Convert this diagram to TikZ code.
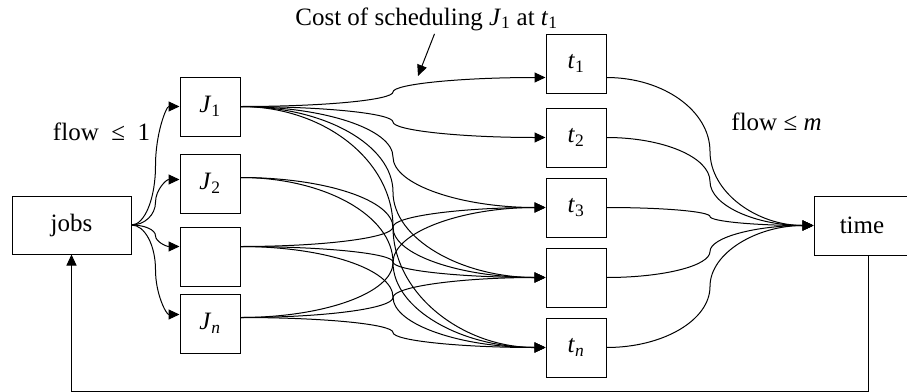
\documentclass[tikz,border=0pt]{standalone}
\usepackage{fontspec}
\setmainfont{Liberation Serif}
\usetikzlibrary{positioning,arrows.meta,calc}
\newcommand{\jb}[1]{\textit{J}\textsubscript{#1}}
\newcommand{\tk}[1]{\textit{t}\textsubscript{#1}}

\begin{document}
\begin{tikzpicture}[x=1pt, y=-1pt, line width=1pt,
  every node/.style={font=\fontsize{25}{30}\selectfont},
  box/.style={draw, fill=white, minimum width=60pt, minimum height=59pt, inner sep=0pt},
  arr/.style={-{Triangle[length=11pt,width=10pt]}},
  flowarc/.style={to path={let \p1=(\tikztostart), \p2=(\tikztotarget), \p3=($(\p1)!0.5!(\p2)$) in
    .. controls ({\x1+0.55*(\x3-\x1)},\y1) and (\x3,{\y3-0.55*(\y3-\y1)}) .. (\p3)
    .. controls (\x3,{\y3+0.55*(\y2-\y3)}) and ({\x2-0.55*(\x2-\x3)},\y2) .. (\p2)}}]
\useasboundingbox (0,0) rectangle (907,391);
\node[box, minimum width=119pt, minimum height=58pt] (jobs) at (71.5,225) {jobs};
\node[box] (J1) at (210,106.5) {\jb{1}};
\node[box, below=17pt of J1] (J2) {\jb{2}};
\node[box, below=13pt of J2] (J3) {};
\node[box, below=7pt of J3] (Jn) {\jb{\textit{n}}};
\node[box] (t1) at (576,63.5) {\tk{1}};
\node[box, below=14pt of t1] (t2) {\tk{2}};
\node[box, below=10pt of t2] (t3) {\tk{3}};
\node[box, below=10pt of t3] (t4) {};
\node[box, below=10pt of t4] (tn) {\tk{\textit{n}}};
\node[box, minimum width=96pt] (time) at (862,225.5) {time};
\foreach \k/\din/\dout in {1/0pt/0pt,2/4pt/6pt,3/10pt/10pt,n/9pt/6pt} {
  \coordinate (inJ\k) at ([yshift=\din]J\k.west);
  \coordinate (outJ\k) at ([yshift=\dout]J\k.east);
}
\foreach \k/\dy in {1/-14pt,2/0pt,3/0pt,4/0pt,n/0pt} {
  \coordinate (int\k) at ([yshift=\dy]t\k.west);
  \coordinate (outt\k) at ([yshift=\dy]t\k.east);
}
\foreach \k in {1,2,3,n} \draw[arr] (jobs.east) to[flowarc] (inJ\k);
\foreach \src/\dst in {1/1,1/2,1/3,1/4,1/n,2/4,2/n,3/3,3/4,3/n,n/3,n/4,n/n}
  \draw[arr] (outJ\src) to[flowarc] (int\dst);
\foreach \k in {1,2,3,4,n} \draw[arr] (outt\k) to[flowarc] (time.west);
\draw[arr] ([xshift=6pt]time.south) -- ++(0,135.5) -| (jobs.south);
\node[anchor=base, inner sep=0pt] (cost) at (426.5,25) {Cost of scheduling \jb{1} at \tk{1}};
\coordinate (costtip) at (418,76);
\draw[arr] ([xshift=8pt,yshift=-3pt]cost.south) -- (costtip);
\node[anchor=base] (flow1) at (101.5,140) {flow\ \ ≤\ \ 1};
\node[anchor=base] (flowm) at (776.5,130) {flow ≤ \textit{m}};
\end{tikzpicture}
\end{document}
